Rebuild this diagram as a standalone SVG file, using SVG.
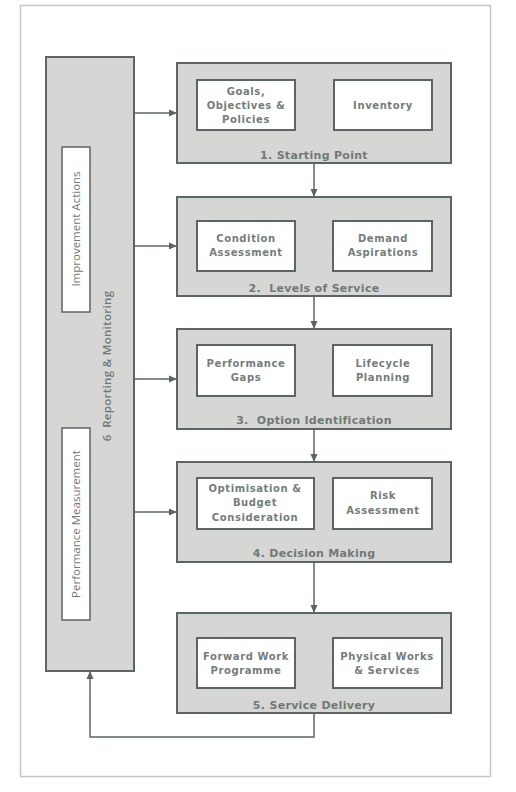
<svg xmlns="http://www.w3.org/2000/svg" width="516" height="792" viewBox="0 0 516 792">
<defs>
<marker id="ah" markerWidth="8" markerHeight="8" refX="7" refY="4" orient="auto" markerUnits="userSpaceOnUse">
<path d="M0,0.5 L8,4 L0,7.5 Z" fill="#5b6662"/>
</marker>
<style>
.frame{fill:#fff;stroke:#c4c6c4;stroke-width:1.5}
.grp{fill:#d6d7d5;stroke:#5b6662;stroke-width:2}
.inner{fill:#fff;stroke:#5b6662;stroke-width:2}
.t{font-family:"DejaVu Sans",sans-serif;font-weight:bold;font-size:10px;fill:#737d7a;text-anchor:middle;letter-spacing:0.6px}
.title{font-family:"DejaVu Sans",sans-serif;font-weight:bold;font-size:11px;fill:#6f7976;text-anchor:middle;letter-spacing:0.3px}
.side{font-family:"Open Sans","DejaVu Sans",sans-serif;font-size:11.5px;fill:#6f7976;text-anchor:middle}
.sidet{font-family:"Open Sans","DejaVu Sans",sans-serif;font-weight:600;font-size:11.5px;fill:#6f7976;text-anchor:middle;letter-spacing:0.3px}
.c{fill:none;stroke:#5b6662;stroke-width:1.5}
</style>
</defs>
<rect width="516" height="792" fill="#fff"/>
<rect class="frame" x="20.5" y="5.5" width="470" height="771"/>

<g id="reporting">
<rect class="grp" x="46" y="57" width="88" height="614"/>
<text class="sidet" xml:space="preserve" transform="translate(111,366) rotate(-90)">6  Reporting &amp; Monitoring</text>
</g>
<g id="improvement">
<rect class="inner" x="62" y="147" width="28" height="165" style="stroke-width:1.5"/>
<text class="side" transform="translate(80,229) rotate(-90)">Improvement Actions</text>
</g>
<g id="performance">
<rect class="inner" x="62" y="428" width="28" height="192" style="stroke-width:1.5"/>
<text class="side" transform="translate(80,524) rotate(-90)">Performance Measurement</text>
</g>

<g id="step1">
<rect class="grp" x="177" y="63" width="274" height="100"/>
<rect class="inner" x="197" y="80" width="98" height="50"/>
<text class="t" x="246" y="95">Goals,</text>
<text class="t" x="246" y="109">Objectives &amp;</text>
<text class="t" x="246" y="123">Policies</text>
<rect class="inner" x="334" y="80" width="98" height="50"/>
<text class="t" x="383" y="109">Inventory</text>
<text class="title" x="314" y="159">1. Starting Point</text>
</g>

<g id="step2">
<rect class="grp" x="177" y="197" width="274" height="99"/>
<rect class="inner" x="197" y="221" width="98" height="50"/>
<text class="t" x="246" y="242">Condition</text>
<text class="t" x="246" y="256">Assessment</text>
<rect class="inner" x="333" y="221" width="99" height="50"/>
<text class="t" x="383" y="242">Demand</text>
<text class="t" x="383" y="256">Aspirations</text>
<text class="title" xml:space="preserve" x="314" y="292">2.  Levels of Service</text>
</g>

<g id="step3">
<rect class="grp" x="177" y="329" width="274" height="100"/>
<rect class="inner" x="197" y="345" width="98" height="51"/>
<text class="t" x="246" y="367">Performance</text>
<text class="t" x="246" y="381">Gaps</text>
<rect class="inner" x="333" y="345" width="99" height="51"/>
<text class="t" x="383" y="367">Lifecycle</text>
<text class="t" x="383" y="381">Planning</text>
<text class="title" xml:space="preserve" x="314" y="424">3.  Option Identification</text>
</g>

<g id="step4">
<rect class="grp" x="177" y="462" width="274" height="100"/>
<rect class="inner" x="197" y="478" width="117" height="51"/>
<text class="t" x="255" y="492">Optimisation &amp;</text>
<text class="t" x="255" y="506">Budget</text>
<text class="t" x="255" y="521">Consideration</text>
<rect class="inner" x="333" y="478" width="99" height="51"/>
<text class="t" x="383" y="499">Risk</text>
<text class="t" x="383" y="514">Assessment</text>
<text class="title" x="314" y="557">4. Decision Making</text>
</g>

<g id="step5">
<rect class="grp" x="177" y="613" width="274" height="100"/>
<rect class="inner" x="197" y="638" width="98" height="50"/>
<text class="t" x="246" y="660">Forward Work</text>
<text class="t" x="246" y="674">Programme</text>
<rect class="inner" x="333" y="638" width="109" height="50"/>
<text class="t" x="387" y="660">Physical Works</text>
<text class="t" x="387" y="674">&amp; Services</text>
<text class="title" x="314" y="709">5. Service Delivery</text>
</g>

<g id="connectors">
<line class="c" x1="134" y1="113" x2="176" y2="113" marker-end="url(#ah)"/>
<line class="c" x1="134" y1="246" x2="176" y2="246" marker-end="url(#ah)"/>
<line class="c" x1="134" y1="379" x2="176" y2="379" marker-end="url(#ah)"/>
<line class="c" x1="134" y1="512" x2="176" y2="512" marker-end="url(#ah)"/>
<line class="c" x1="314" y1="163" x2="314" y2="196" marker-end="url(#ah)"/>
<line class="c" x1="314" y1="296" x2="314" y2="328" marker-end="url(#ah)"/>
<line class="c" x1="314" y1="429" x2="314" y2="461" marker-end="url(#ah)"/>
<line class="c" x1="314" y1="562" x2="314" y2="612" marker-end="url(#ah)"/>
<polyline class="c" points="314,713 314,737 90,737 90,672" marker-end="url(#ah)"/>
</g>
</svg>
